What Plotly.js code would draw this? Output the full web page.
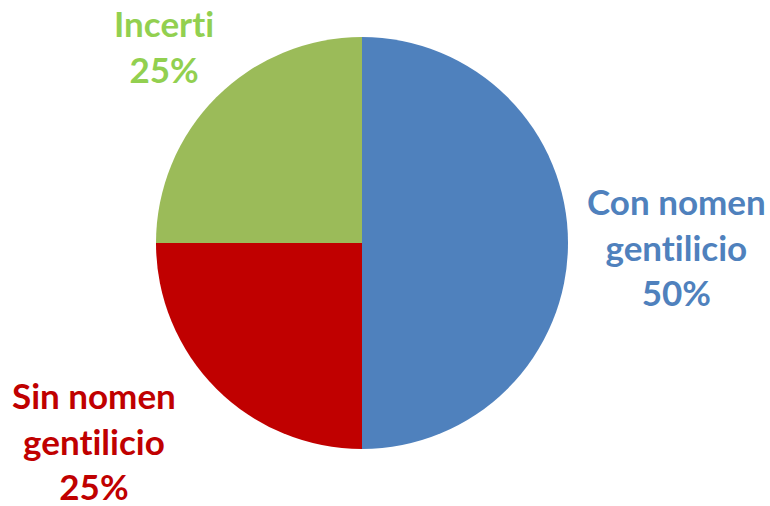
<!DOCTYPE html>
<html>
<head>
<meta charset="utf-8">
<script src="https://cdn.plot.ly/plotly-3.0.1.min.js"></script>
<style>html,body{margin:0;padding:0;background:#fff;}#chart{width:770px;height:506px;}
svg text{font-variant-ligatures:none;font-feature-settings:"liga" 0, "clig" 0;}</style>
</head>
<body>
<div id="chart"></div>
<script>
// Data
var categories = ['Con nomen gentilicio', 'Sin nomen gentilicio', 'Incerti'];
var values = [50, 25, 25];
var labelLines = ['Con nomen<br>gentilicio', 'Sin nomen<br>gentilicio', 'Incerti'];

// Styles
var sliceColors = ['#4F81BD', '#C00000', '#9BBB59'];
var labelColors = ['#4F81BD', '#C00000', '#92D050'];
var labelPos = [[676, 246], [94, 440], [164, 46]]; // pixel positions of label centres
var W = 770, H = 506;

var total = values.reduce(function(a, b){ return a + b; }, 0);

var trace = {
  type: 'pie',
  labels: categories,
  values: values,
  sort: false,
  direction: 'clockwise',
  rotation: 0,
  textinfo: 'none',
  hoverinfo: 'label+percent',
  marker: {colors: sliceColors, line: {width: 0}},
  domain: {x: [156 / W, 568 / W], y: [1 - 449 / H, 1 - 37 / H]},
  showlegend: false
};

var annotations = categories.map(function(c, i){
  var pct = Math.round(values[i] / total * 100) + '%';
  return {
    text: labelLines[i] + '<br>' + pct,
    x: labelPos[i][0] / W,
    y: 1 - labelPos[i][1] / H,
    xref: 'paper', yref: 'paper',
    xanchor: 'center', yanchor: 'middle',
    showarrow: false,
    align: 'center',
    font: {family: 'Lato, "Open Sans", sans-serif', size: 35, color: labelColors[i], weight: 'bold'}
  };
});

var layout = {
  width: W, height: H,
  margin: {l: 0, r: 0, t: 0, b: 0},
  paper_bgcolor: '#ffffff',
  plot_bgcolor: '#ffffff',
  showlegend: false,
  annotations: annotations
};

Plotly.newPlot('chart', [trace], layout, {displayModeBar: false, staticPlot: true});
</script>
</body>
</html>
